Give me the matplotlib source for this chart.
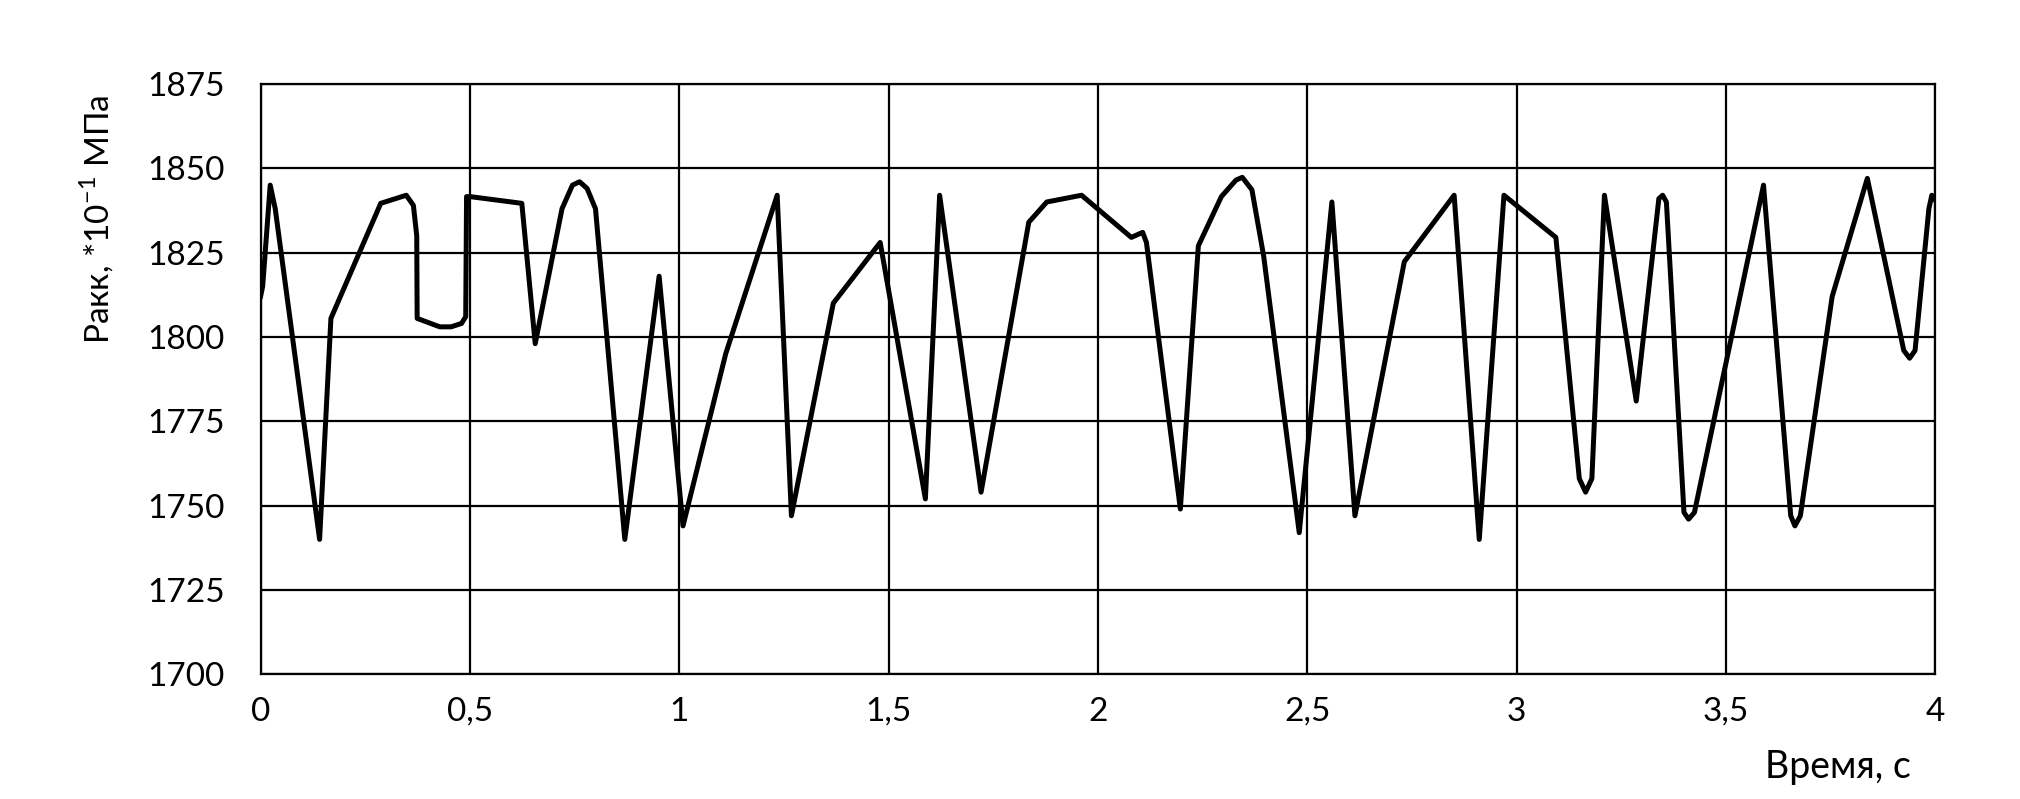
import matplotlib
matplotlib.use("Agg")
import matplotlib.pyplot as plt
from matplotlib.ticker import FuncFormatter

# === DATA ===
time_s = [0.000, 0.005, 0.023, 0.035, 0.141, 0.168, 0.287, 0.348, 0.365, 0.373, 0.374,
          0.428, 0.455, 0.480, 0.490, 0.492, 0.500, 0.624, 0.656, 0.720, 0.745, 0.762,
          0.780, 0.800, 0.870, 0.952, 1.009, 1.111, 1.234, 1.268, 1.368, 1.480, 1.588,
          1.622, 1.721, 1.835, 1.878, 1.961, 2.080, 2.107, 2.116, 2.197, 2.240, 2.295,
          2.330, 2.345, 2.368, 2.396, 2.481, 2.559, 2.614, 2.732, 2.851, 2.911, 2.970,
          3.094, 3.150, 3.165, 3.180, 3.210, 3.286, 3.340, 3.349, 3.358, 3.400, 3.411,
          3.425, 3.590, 3.655, 3.665, 3.678, 3.754, 3.838, 3.925, 3.939, 3.952, 3.985,
          3.992, 4.000]
p_akk = [1812, 1815, 1845, 1838, 1740, 1805.5, 1839.6, 1842, 1839, 1830, 1805.5,
         1803, 1803, 1804, 1806, 1841.6, 1841.6, 1839.6, 1798, 1838, 1845, 1846,
         1844, 1838, 1740, 1818, 1744, 1795, 1842, 1747, 1810, 1828, 1752,
         1842, 1754, 1834, 1840, 1842, 1829.5, 1831, 1828, 1749, 1827, 1841.6,
         1846.5, 1847.3, 1843.6, 1824, 1742, 1840, 1747, 1822.3, 1842, 1740, 1842,
         1829.5, 1758, 1754, 1758, 1842, 1781, 1841, 1842, 1840, 1748, 1746,
         1748, 1845, 1747, 1744, 1747, 1812, 1847, 1796, 1793.7, 1796, 1838,
         1842, 1840.6]

x_ticks = [0, 0.5, 1, 1.5, 2, 2.5, 3, 3.5, 4]
y_ticks = [1700, 1725, 1750, 1775, 1800, 1825, 1850, 1875]

# === PLOT ===
plt.rcParams["font.family"] = "Lato"
fig = plt.figure(figsize=(20.2, 7.99), dpi=100, facecolor='white')
ax = fig.add_axes([0.129, 0.156, 0.829, 0.739])

ax.plot(time_s, p_akk, color='black', linewidth=3.6, solid_joinstyle='round')

ax.set_xlim(0, 4)
ax.set_ylim(1700, 1875)
ax.set_xticks(x_ticks)
ax.set_yticks(y_ticks)
ax.xaxis.set_major_formatter(FuncFormatter(lambda v, p: f"{v:g}".replace('.', ',')))

ax.grid(True, color='black', linewidth=1.6)
for s in ax.spines.values():
    s.set_linewidth(1.6)
ax.tick_params(length=0, labelsize=24)
ax.tick_params(axis='y', pad=26)
ax.tick_params(axis='x', pad=16)

fig.text(0.048, 0.726, r'Ракк, *10$^{\mathregular{-1}}$ МПа', fontsize=24,
         rotation=90, ha='center', va='center')
fig.text(0.946, 0.04, 'Время, с', fontsize=27, ha='right', va='center')

plt.savefig("out.png", dpi=100, facecolor='white')
